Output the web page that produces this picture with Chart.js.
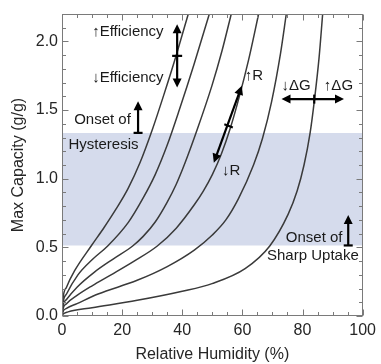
<!DOCTYPE html>
<html><head><meta charset="utf-8">
<script src="https://cdn.jsdelivr.net/npm/chart.js@4.4.0/dist/chart.umd.min.js"></script>
<style>html,body{margin:0;padding:0;background:#fff}#wrap{width:381px;height:364px}</style>
</head><body><div id="wrap"><canvas id="c" width="381" height="364"></canvas></div>
<script>
// ---- data ----
const rh1  = [0, 0.3, 1.5, 4.2, 9.7, 14, 18, 22, 26, 30, 34, 38, 42];
const cap1 = [0, 0.12, 0.21, 0.33, 0.51, 0.645, 0.78, 0.93, 1.12, 1.355, 1.62, 1.90, 2.2];
const rh2  = [0, 0.3, 1.5, 5.3, 10, 15.2, 22, 27, 31, 35, 39, 44, 49];
const cap2 = [0, 0.09, 0.16, 0.30, 0.41, 0.51, 0.68, 0.86, 1.03, 1.245, 1.50, 1.84, 2.2];
const rh3  = [0, 0.3, 1.5, 5, 10.8, 17, 23.5, 27, 31, 35, 38, 41, 45, 49.9, 53.2, 56.3];
const cap3 = [0, 0.07, 0.12, 0.21, 0.32, 0.415, 0.51, 0.58, 0.685, 0.83, 0.96, 1.12, 1.36, 1.68, 1.93, 2.2];
const rh4  = [0, 0.3, 1.5, 5, 10, 16.3, 24, 31.7, 38, 44, 47, 50, 53, 56, 59, 62, 65.4];
const cap4 = [0, 0.05, 0.09, 0.15, 0.22, 0.30, 0.40, 0.51, 0.64, 0.81, 0.91, 1.03, 1.18, 1.37, 1.60, 1.86, 2.2];
const rh5  = [0, 0.3, 1.5, 5, 12, 25, 35, 44, 50, 54.5, 58.7, 63.7, 66.7, 69.7, 72.7, 74.6];
const cap5 = [0, 0.03, 0.055, 0.09, 0.16, 0.26, 0.36, 0.48, 0.59, 0.70, 0.855, 1.10, 1.295, 1.56, 1.915, 2.2];
const rh6  = [0, 0.3, 2, 10, 25, 40, 49.9, 60.9, 69.1, 75.2, 78.2, 80.5, 82.5, 84.0, 85.5, 86.7];
const cap6 = [0, 0.012, 0.03, 0.06, 0.114, 0.18, 0.236, 0.345, 0.51, 0.74, 0.91, 1.10, 1.33, 1.58, 1.88, 2.2];

const bandLow = 0.514;   // onset of sharp uptake
const bandHigh = 1.334;  // onset of hysteresis
const bandX = [0, 100];

const xTicks = [0, 20, 40, 60, 80, 100];
const yTicks = [0, 0.5, 1.0, 1.5, 2.0];
const xTitle = 'Relative Humidity (%)';
const yTitle = 'Max Capacity (g/g)';

// ---- build ----
const pts = (xs, ys) => xs.map((v, i) => ({x: v, y: ys[i]}));
const curves = [[rh1,cap1],[rh2,cap2],[rh3,cap3],[rh4,cap4],[rh5,cap5],[rh6,cap6]];
const FONT = "'Liberation Sans', Arial, Helvetica, sans-serif";

const datasets = [{
  data: pts(bandX, [bandHigh, bandHigh]),
  borderWidth: 0, pointRadius: 0,
  backgroundColor: '#d5dbec',
  fill: {value: bandLow},
  order: 10
}];
curves.forEach(([xs, ys]) => datasets.push({
  data: pts(xs, ys),
  borderColor: '#3a3a3a', borderWidth: 1.5, pointRadius: 0,
  cubicInterpolationMode: 'monotone', fill: false, order: 1
}));

function arrowHead(ctx, x1, y1, x2, y2, len, hw) {
  const a = Math.atan2(y2 - y1, x2 - x1);
  ctx.beginPath();
  ctx.moveTo(x2, y2);
  ctx.lineTo(x2 - len*Math.cos(a) + hw*Math.sin(a), y2 - len*Math.sin(a) - hw*Math.cos(a));
  ctx.lineTo(x2 - len*Math.cos(a) - hw*Math.sin(a), y2 - len*Math.sin(a) + hw*Math.cos(a));
  ctx.closePath(); ctx.fill();
}
function arrow(ctx, x1, y1, x2, y2, opts) {
  const len = 9, hw = 4.5;
  const a = Math.atan2(y2 - y1, x2 - x1);
  let sx = x1, sy = y1, ex = x2, ey = y2;
  if (opts.end) { ex = x2 - (len-2)*Math.cos(a); ey = y2 - (len-2)*Math.sin(a); }
  if (opts.start) { sx = x1 + (len-2)*Math.cos(a); sy = y1 + (len-2)*Math.sin(a); }
  ctx.beginPath(); ctx.moveTo(sx, sy); ctx.lineTo(ex, ey); ctx.stroke();
  if (opts.end) arrowHead(ctx, x1, y1, x2, y2, len, hw);
  if (opts.start) arrowHead(ctx, x2, y2, x1, y1, len, hw);
}
function crossbar(ctx, cx, cy, ang, half) {
  const p = ang + Math.PI/2;
  ctx.beginPath();
  ctx.moveTo(cx - half*Math.cos(p), cy - half*Math.sin(p));
  ctx.lineTo(cx + half*Math.cos(p), cy + half*Math.sin(p));
  ctx.stroke();
}

const decor = {
  id: 'decor',
  afterDatasetsDraw(chart) {
    const {ctx, chartArea: a, scales: {x, y}} = chart;
    const X = v => x.getPixelForValue(v), Y = v => y.getPixelForValue(v);
    ctx.save();
    // frame + inward ticks on all four sides
    ctx.strokeStyle = '#7a7a7a'; ctx.lineWidth = 1;
    const L = Math.round(a.left)+0.5, R = Math.round(a.right)-0.5, T = Math.round(a.top)+0.5, B = Math.round(a.bottom)-0.5;
    ctx.strokeRect(L, T, R - L, B - T);
    ctx.beginPath();
    for (let v = 0; v <= 100.001; v += 5) {
      const px = Math.round(X(v)) + 0.5, len = (Math.abs(v % 20) < 1e-6) ? 6 : 3.5;
      ctx.moveTo(px, B); ctx.lineTo(px, B - len);
      ctx.moveTo(px, T); ctx.lineTo(px, T + len);
    }
    for (let k = 0; k <= 22; k++) {
      const v = k / 10, py = Math.round(Y(v)) + 0.5, len = (k % 5 === 0) ? 6 : 3.5;
      ctx.moveTo(L, py); ctx.lineTo(L + len, py);
      ctx.moveTo(R, py); ctx.lineTo(R - len, py);
    }
    ctx.stroke();

    // annotation arrows
    ctx.strokeStyle = '#000'; ctx.fillStyle = '#000'; ctx.lineWidth = 2.2;
    arrow(ctx, X(38.3), Y(1.665), X(38.3), Y(2.125), {start: true, end: true});
    crossbar(ctx, X(38.3), Y(1.895), -Math.PI/2, 5);
    arrow(ctx, X(25.3), Y(bandHigh), X(25.3), Y(1.565), {end: true});
    crossbar(ctx, X(25.3), Y(bandHigh), -Math.PI/2, 4.5);
    const rx1 = X(50.5), ry1 = Y(1.117), rx2 = X(59.8), ry2 = Y(1.677);
    arrow(ctx, rx1, ry1, rx2, ry2, {start: true, end: true});
    crossbar(ctx, X(55.4), Y(1.385), Math.atan2(ry2 - ry1, rx2 - rx1), 4.5);
    arrow(ctx, X(73), Y(1.58), X(93.8), Y(1.58), {start: true, end: true});
    crossbar(ctx, X(83.9), Y(1.58), 0, 4.5);
    arrow(ctx, X(95.2), Y(bandLow), X(95.2), Y(0.735), {end: true});
    crossbar(ctx, X(95.2), Y(bandLow), -Math.PI/2, 4.5);

    // annotation text
    ctx.fillStyle = '#1a1a1a';
    ctx.font = '15px ' + FONT; ctx.textBaseline = 'middle';
    const txt = (s, vx, vy, align) => { ctx.textAlign = align; ctx.fillText(s, X(vx), Y(vy)); };
    txt('\u2191Efficiency', 33.8, 2.07, 'right');
    txt('\u2193Efficiency', 33.8, 1.736, 'right');
    txt('Onset of', 22.9, 1.43, 'right');
    txt('Hysteresis', 13.8, 1.25, 'center');
    txt('\u2191R', 60.8, 1.747, 'left');
    txt('\u2193R', 53.2, 1.06, 'left');
    txt('\u2193\u0394G', 73, 1.678, 'left');
    txt('\u2191\u0394G', 87.1, 1.678, 'left');
    txt('Onset of', 93.3, 0.566, 'right');
    txt('Sharp Uptake', 98.7, 0.435, 'right');
    ctx.restore();
  }
};

new Chart(document.getElementById('c'), {
  type: 'line',
  data: {datasets},
  plugins: [decor],
  options: {
    responsive: false, animation: false, devicePixelRatio: 1,
    layout: {padding: {left: 9, top: 14, right: 15, bottom: 0}},
    plugins: {legend: {display: false}, tooltip: {enabled: false}},
    scales: {
      x: {
        type: 'linear', min: 0, max: 100,
        afterBuildTicks: s => { s.ticks = xTicks.map(v => ({value: v})); },
        afterFit: s => { s.height = 48; },
        grid: {display: false, drawTicks: false}, border: {display: false},
        ticks: {padding: 5, color: '#262626', font: {family: FONT, size: 16}, maxRotation: 0},
        title: {display: true, text: xTitle, color: '#262626', font: {family: FONT, size: 16}, padding: {top: 0, bottom: 0}}
      },
      y: {
        type: 'linear', min: 0, max: 2.2,
        afterBuildTicks: s => { s.ticks = yTicks.map(v => ({value: v})); },
        afterFit: s => { s.width = 53; },
        grid: {display: false, drawTicks: false}, border: {display: false},
        ticks: {padding: 4, color: '#262626', font: {family: FONT, size: 16}, callback: v => Number(v).toFixed(1)},
        title: {display: true, text: yTitle, color: '#262626', font: {family: FONT, size: 16}, padding: {top: 0, bottom: 0}}
      }
    }
  }
});
</script></body></html>
